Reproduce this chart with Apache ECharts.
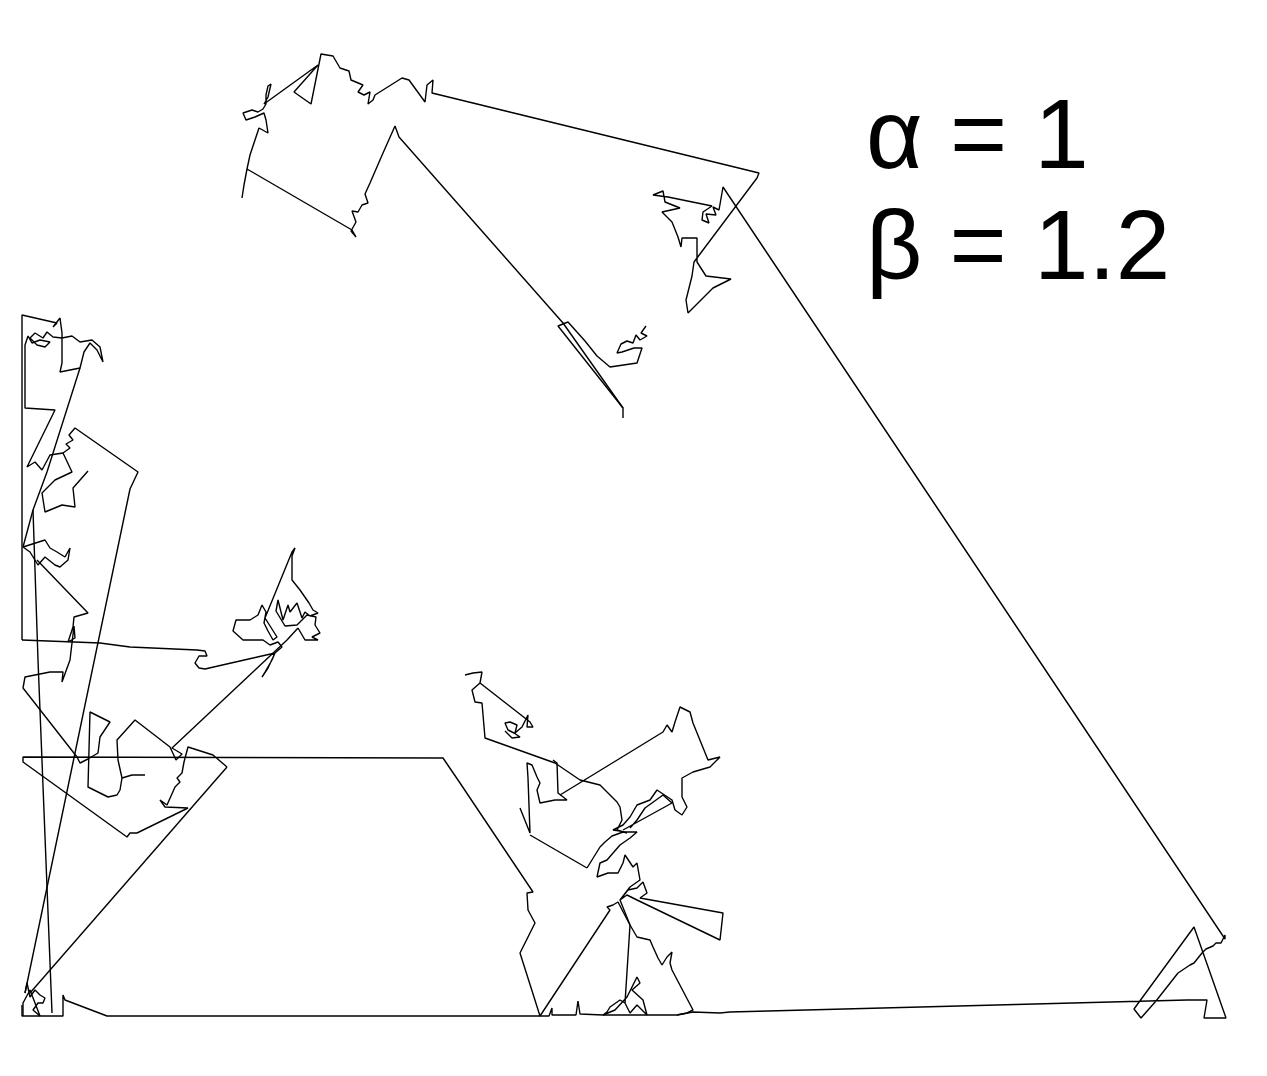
<!DOCTYPE html>
<html><head><meta charset="utf-8">
<script src="https://cdn.jsdelivr.net/npm/echarts@6/dist/echarts.min.js"></script>
<style>html,body{margin:0;padding:0;background:#fff}#c{width:1267px;height:1076px}</style>
</head><body><div id="c"></div>
<script>
// Walk strands: [x, y] positions (x right, y down)
const strandA = [[646,326],[641,333],[647,336],[640,340],[636,335],[633,343],[627,341],[621,344],[617,353],[622,352],[634,348],[642,348],[637,363],[610,367],[597,356],[585,341],[568,322],[558,326],[623,408],[623,418]];
const strandB = [[623,408],[563,323],[399,137],[395,126],[383,153],[370,183],[365,194],[368,203],[362,205],[358,212],[352,211],[356,222],[351,231],[356,237],[352,230],[247,169],[244,185],[242,198]];
const strandC = [[247,169],[250,155],[255,140],[259,128],[268,133],[266,120],[264,113],[255,117],[246,120],[243,113],[252,110],[258,112],[263,109],[266,104],[266,95],[268,86],[271,84],[268,97],[264,104],[318,65],[294,92],[311,104],[321,54],[333,56],[340,68],[349,71],[351,80],[363,85],[358,92],[364,95],[370,92],[368,104],[373,100],[375,95],[402,78],[409,80],[425,102],[427,85],[433,80],[432,93],[759,173],[757,178],[694,262],[692,276],[686,300],[688,313],[713,288],[731,279],[706,276],[697,262],[697,238],[682,238],[681,247],[678,237],[672,222],[662,212],[680,208],[665,202],[663,191],[653,195],[668,197],[712,206],[703,212],[702,220],[709,223],[706,214],[716,215],[713,207],[719,210],[723,187],[1225,939],[1225,935],[1221,943],[1216,943],[1213,946],[1206,949],[1202,953],[1198,958],[1194,963],[1190,965],[1178,973],[1156,1001],[1141,1018],[1134,1009],[1194,927],[1226,1018],[1204,1018],[1207,1000],[1187,1000],[730,1012],[720,1013],[693,1012],[677,1015],[647,1015],[603,1015],[580,1014],[578,1001],[576,1015],[552,1015],[552,1008],[549,1016],[540,1016],[107,1016],[65,1000],[63,995],[63,1016],[22,1016],[22,1005]];
const strandD = [[540,1016],[610,910],[607,907],[613,905],[618,902],[630,925],[637,937],[650,940],[653,947],[658,958],[662,965],[667,957],[672,952],[670,963],[672,970],[693,1010],[687,1013],[677,1015]];
const strandE = [[587,868],[600,847],[605,842],[612,836],[623,832],[637,832],[630,838],[620,845],[607,860],[600,863],[597,877],[608,873],[618,873],[623,863],[625,855],[633,867],[637,863],[640,880],[630,887],[620,900],[628,890],[637,888],[643,882],[647,893],[640,898],[723,913],[720,940],[637,900],[627,895],[620,900],[630,925],[625,1003],[620,1000],[610,1007],[607,1012],[603,1015],[615,1010],[627,997],[637,977],[640,983],[632,990],[643,1000],[647,1015],[637,1005],[630,1013],[625,1003]];
const strandF = [[520,808],[530,833],[528,778],[527,763],[532,765],[537,777],[540,783],[537,790],[540,803],[545,802],[555,800],[567,800],[558,793],[557,763],[553,760]];
const strandF2 = [[530,835],[587,868]];
const strandG = [[465,675],[473,673],[482,672],[480,683],[530,722],[533,727],[527,727],[528,715],[522,727],[515,733],[517,725],[510,722],[505,723],[508,730],[514,733],[520,737],[512,738],[505,731]];
const strandH = [[480,683],[472,690],[475,702],[482,703],[485,738],[555,763],[580,780],[600,785],[617,802],[620,807],[622,820],[617,830],[627,833],[620,831],[613,830],[623,825],[630,817],[637,805],[650,800],[657,790],[672,800],[675,810],[682,815],[687,807],[682,797],[682,778],[693,772],[710,767],[720,757],[708,760],[693,723],[690,712],[680,707],[675,722],[672,732],[667,725],[663,732],[560,795]];
const strandI = [[623,830],[672,803],[663,795],[645,808],[637,820],[630,828]];
const strandJ = [[22,640],[22,315],[57,323],[53,327],[60,318],[62,333],[62,363],[60,372],[80,368],[84,352],[90,343],[97,350],[103,362],[100,347],[92,340],[80,342],[72,336],[62,338],[53,337],[47,332],[43,338],[35,333],[30,338],[37,345],[45,347],[50,342],[40,340],[32,343],[28,336],[25,345],[25,408],[55,410],[27,467],[35,462],[42,470],[50,455],[63,453],[70,448],[66,444],[73,440],[69,435],[75,428],[138,472],[130,489],[25,993]];
const strandK = [[80,368],[47,472],[33,510],[38,660],[52,1013]];
const strandL = [[88,471],[73,488],[75,507],[62,505],[45,512],[42,493],[55,480],[72,472],[63,453]];
const strandM = [[33,510],[23,547],[45,540],[50,548],[57,552],[65,557],[70,548],[68,560],[60,567],[55,565],[45,557],[38,565],[30,552],[23,547]];
const strandN = [[37,560],[88,613],[74,617],[73,627],[68,642],[75,638],[74,626],[70,660],[62,682],[63,672],[50,672],[25,677],[23,688],[77,757],[80,763],[88,759],[98,753],[100,737],[110,722],[90,712],[88,787],[100,793],[108,797],[117,795],[120,790],[122,778],[118,760],[117,740],[135,720],[170,747],[176,760],[182,754],[172,748],[287,640],[298,628]];
const strandN2 = [[122,778],[132,775],[145,775]];
const strandO = [[227,767],[213,755],[188,747],[184,762],[182,773],[177,778],[180,782],[175,787],[167,805],[160,800],[165,807],[188,808],[137,833],[130,833],[127,837],[23,762],[23,757],[443,758],[460,783],[533,892],[527,893],[528,910],[535,923],[520,953],[540,1016]];
const strandP = [[227,767],[30,993]];
const strandQ = [[25,993],[27,983],[30,997],[35,990],[40,995],[45,998],[43,1003],[38,1003],[33,1010],[40,1016],[30,990],[23,1003],[23,1016]];
const strandR = [[22,640],[100,643],[130,647],[197,650],[205,651],[207,656],[199,656],[195,663],[199,668],[205,669],[218,666],[275,653],[272,660],[265,672],[262,677],[268,668],[275,653],[282,647],[278,642],[270,645],[263,640],[243,640],[233,631],[236,620],[250,620],[258,615],[262,605],[266,612],[264,623],[268,631],[273,640],[277,637],[265,618],[292,552],[295,548],[292,556],[292,580],[300,590],[309,603],[313,610],[318,613],[310,616],[305,612],[302,618],[297,603],[290,612],[288,605],[283,620],[278,600],[276,611],[285,626],[297,625],[307,615],[316,617],[315,625],[320,633],[312,637],[318,640],[305,640],[298,628]];

const strands = [strandA,strandB,strandC,strandD,strandE,strandF,strandF2,strandG,strandH,strandI,strandJ,strandK,strandL,strandM,strandN,strandN2,strandO,strandP,strandQ,strandR];
const labelLines = ['α = 1', 'β = 1.2'];

const chart = echarts.init(document.getElementById('c'), null, {renderer:'canvas'});
chart.setOption({
  animation: false,
  backgroundColor: '#fff',
  grid: {left:0, right:0, top:0, bottom:0},
  xAxis: {type:'value', min:0, max:1267, show:false},
  yAxis: {type:'value', min:0, max:1076, inverse:true, show:false},
  series: strands.map(s => ({
    type:'line', data:s, symbol:'none', silent:true,
    lineStyle:{color:'#000', width:1.4}
  })),
  graphic: [
    {type:'text', left:866, top:92, style:{text:labelLines[0], font:'98px "Liberation Sans", Arial, sans-serif', fill:'#000'}},
    {type:'text', left:866, top:203, style:{text:labelLines[1], font:'98px "Liberation Sans", Arial, sans-serif', fill:'#000'}}
  ]
});
</script></body></html>
